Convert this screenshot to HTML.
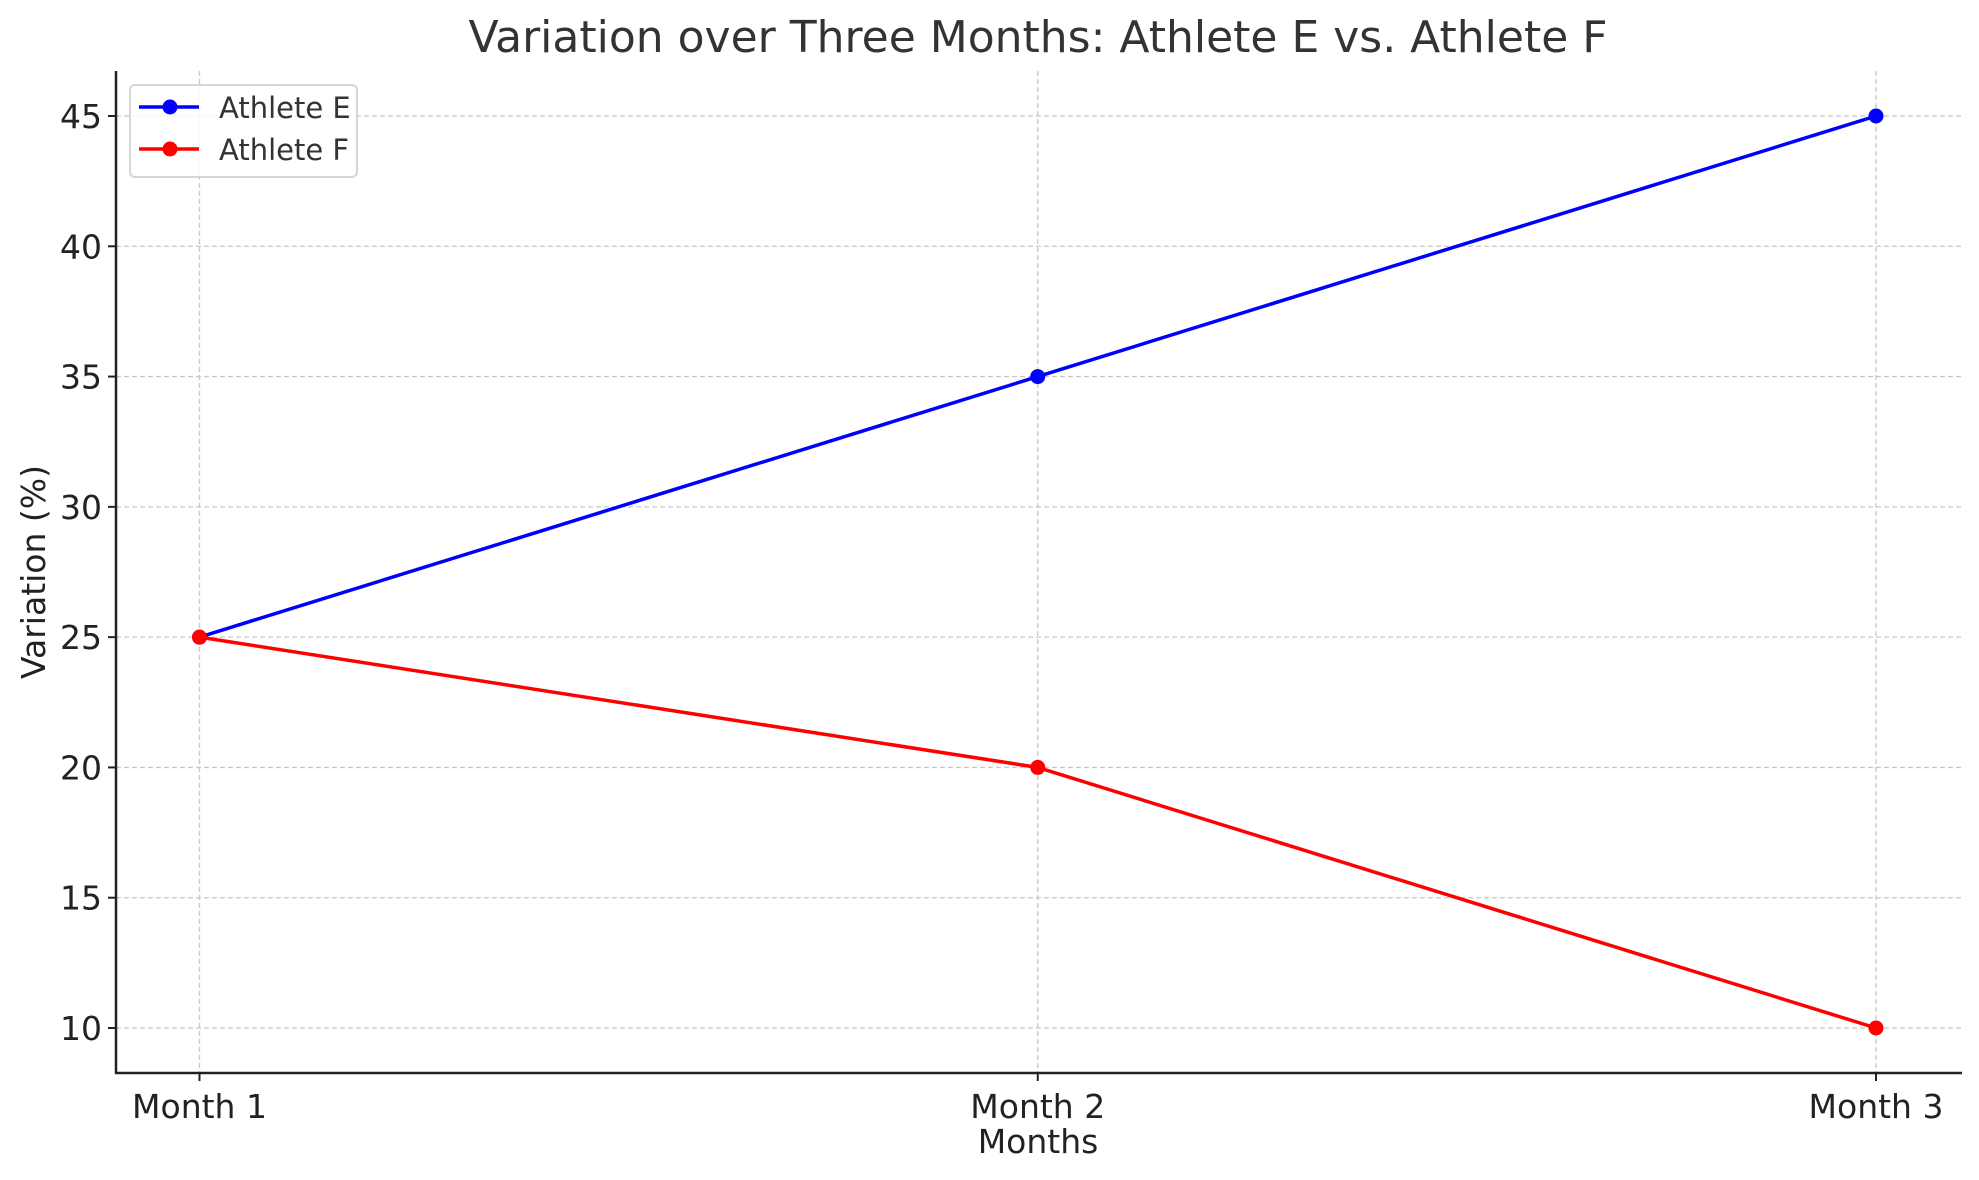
<!DOCTYPE html>
<html><head><meta charset="utf-8"><style>
body{margin:0;background:#fff;}
svg{display:block;font-family:"DejaVu Sans","Liberation Sans",sans-serif;}
</style></head><body>
<svg id="chart" width="1979" height="1180">
<text x="1038" y="52" font-size="44" fill="#333" text-anchor="middle">Variation over Three Months: Athlete E vs. Athlete F</text>
<g id="grid"></g>
<g id="axes"></g>
<g id="series"></g>
<text x="1038" y="1153" font-size="33" fill="#222" text-anchor="middle">Months</text>
<text x="0" y="0" font-size="33" fill="#222" text-anchor="middle" transform="translate(45,572) rotate(-90)">Variation (%)</text>
<g>
<rect x="130" y="85" width="227" height="92" rx="5" fill="#fff" fill-opacity="0.8" stroke="#d6d6d6" stroke-width="2"/>
<line x1="139" y1="107" x2="199" y2="107" stroke="#0000ff" stroke-width="3.5"/>
<circle cx="170" cy="107" r="7.5" fill="#0000ff"/>
<text x="219" y="118" font-size="29" fill="#333">Athlete E</text>
<line x1="139" y1="149" x2="199" y2="149" stroke="#ff0000" stroke-width="3.5"/>
<circle cx="170" cy="149" r="7.5" fill="#ff0000"/>
<text x="219" y="160" font-size="29" fill="#333">Athlete F</text>
</g>
</svg>
<script>
const categories = ["Month 1","Month 2","Month 3"];
const athleteE = [25, 35, 45];
const athleteF = [25, 20, 10];
const yTicks = [10, 15, 20, 25, 30, 35, 40, 45];

const NS = "http://www.w3.org/2000/svg";
const L = 116, R = 1962, T = 71, B = 1073;
const x0 = 199.5, x1 = 1876;
function xs(i){ return x0 + (x1 - x0) * i / (categories.length - 1); }
function ys(v){ return 1028 + (v - 10) * (116 - 1028) / 35; }
function mk(tag, attrs, parent){ const e = document.createElementNS(NS, tag); for (const k in attrs) e.setAttribute(k, attrs[k]); parent.appendChild(e); return e; }
const grid = document.getElementById("grid"), axes = document.getElementById("axes"), series = document.getElementById("series");

yTicks.forEach(v => {
  const y = ys(v);
  const g = mk("line", {x1:L, x2:R, y1:y, y2:y, stroke:"#c8c8c8", "stroke-width":1.3, "stroke-dasharray":"5,3"}, grid);
  
  
  mk("line", {x1:L-8, x2:L, y1:y, y2:y, stroke:"#222", "stroke-width":2}, axes);
  const t = mk("text", {x:L-14, y:y+12, "font-size":33, fill:"#222", "text-anchor":"end"}, axes);
  t.textContent = v;
  
  
});
categories.forEach((c, i) => {
  const x = xs(i);
  const g = mk("line", {x1:x, x2:x, y1:T, y2:B, stroke:"#c8c8c8", "stroke-width":1.3, "stroke-dasharray":"5,3"}, grid);
  
  
  mk("line", {x1:x, x2:x, y1:B, y2:B+8, stroke:"#222", "stroke-width":2}, axes);
  const t = mk("text", {x:x, y:B+45, "font-size":33, fill:"#222", "text-anchor":"middle"}, axes);
  t.textContent = c;
  
  
});
const la = mk("line", {x1:L, x2:L, y1:T, y2:B+1, stroke:"#222", "stroke-width":2.5}, axes);


const ba = mk("line", {x1:L-1, x2:R, y1:B, y2:B, stroke:"#222", "stroke-width":2.5}, axes);



function drawSeries(vals, color, name){
  const pts = vals.map((v, i) => xs(i) + "," + ys(v)).join(" ");
  const pl = mk("polyline", {points:pts, fill:"none", stroke:color, "stroke-width":3.5}, series);
  
  
  vals.forEach((v, i) => {
    const c = mk("circle", {cx:xs(i), cy:ys(v), r:7.5, fill:color}, series);
    
    
  });
}
drawSeries(athleteE, "#0000ff", "athlete-e");
drawSeries(athleteF, "#ff0000", "athlete-f");
</script>
</body></html>
